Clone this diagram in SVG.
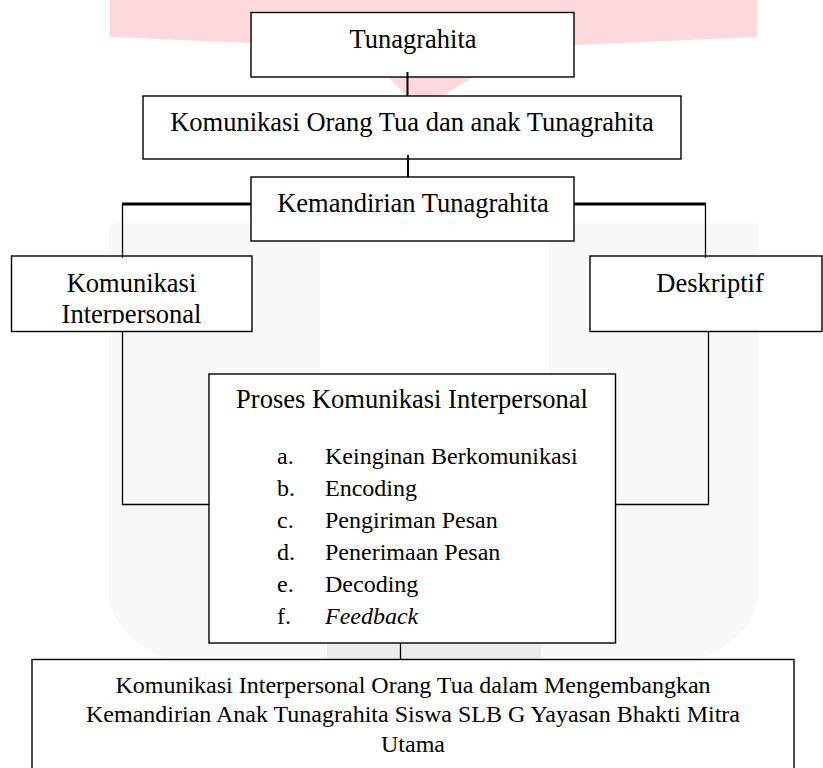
<svg xmlns="http://www.w3.org/2000/svg" width="823" height="768" viewBox="0 0 823 768">
<style>
.box{fill:#fff;stroke:#000;stroke-width:1.4}
.t{font-family:"Liberation Serif","Times New Roman",serif;font-size:26.5px;fill:#000;text-anchor:middle}
.s{font-family:"Liberation Serif","Times New Roman",serif;font-size:24px;fill:#000}
.thick{stroke:#000;stroke-width:2;fill:none}
.bar{stroke:#000;stroke-width:3;fill:none}
.thin{stroke:#000;stroke-width:1.3;fill:none}
</style>
<defs>
<clipPath id="clipKI"><rect x="0" y="256" width="260" height="67.5"/></clipPath>
</defs>
<rect width="823" height="768" fill="#fff"/>
<g id="watermark">
<path d="M110,0 H757 V37 L577,45 L520,48 L420,110 L360,47 L250,43 L110,37 Z" fill="#fdd9dd"/>
<path d="M109,232 Q109,223 118,223 H312 Q320,223 320,232 V660 H109 Z" fill="#f8f8f8"/>
<path d="M549,245 Q549,223 571,223 H758 V660 H549 Z" fill="#f8f8f8"/>
<path d="M109,560 Q112,630 170,660 H700 Q755,630 758,560 Z" fill="#f8f8f8"/>
<rect x="327" y="560" width="214" height="100" fill="#ececec"/>
<path d="M109,600 Q118,640 170,660 L109,660 Z" fill="#fff"/>
<path d="M758,600 Q749,640 697,660 L758,660 Z" fill="#fff"/>
</g>
<g id="n-tunagrahita">
<rect class="box" x="251" y="12.5" width="323" height="64.5"/>
<text class="t" x="413" y="48">Tunagrahita</text>
</g>
<g id="n-komunikasi-orangtua">
<rect class="box" x="143" y="96" width="538" height="63"/>
<text class="t" x="412" y="131">Komunikasi Orang Tua dan anak Tunagrahita</text>
</g>
<g id="n-kemandirian">
<rect class="box" x="251" y="177" width="323" height="64"/>
<text class="t" x="413" y="212">Kemandirian Tunagrahita</text>
</g>
<g id="n-komunikasi-interpersonal">
<rect class="box" x="11.5" y="256" width="240.5" height="75.5"/>
<text class="t" x="131.5" y="292">Komunikasi</text>
<text class="t" x="131.5" y="323" clip-path="url(#clipKI)">Interpersonal</text>
</g>
<g id="n-deskriptif">
<rect class="box" x="590" y="256" width="232" height="75.5"/>
<text class="t" x="710" y="292">Deskriptif</text>
</g>
<g id="n-proses">
<rect class="box" x="209" y="374" width="406.5" height="269"/>
<text class="t" x="412" y="408">Proses Komunikasi Interpersonal</text>
<text class="s" x="277" y="464">a.</text><text class="s" x="325" y="464">Keinginan Berkomunikasi</text>
<text class="s" x="277" y="495.5">b.</text><text class="s" x="325" y="495.5">Encoding</text>
<text class="s" x="277" y="527.5">c.</text><text class="s" x="325" y="527.5">Pengiriman Pesan</text>
<text class="s" x="277" y="559.5">d.</text><text class="s" x="325" y="559.5">Penerimaan Pesan</text>
<text class="s" x="277" y="591.5">e.</text><text class="s" x="325" y="591.5">Decoding</text>
<text class="s" x="277" y="623.5">f.</text><text class="s" x="325" y="623.5" font-style="italic">Feedback</text>
</g>
<g id="n-kesimpulan">
<rect class="box" x="32" y="659.5" width="762" height="120"/>
<text class="s" x="413" y="693" text-anchor="middle">Komunikasi Interpersonal Orang Tua dalam Mengembangkan</text>
<text class="s" x="413" y="722" text-anchor="middle">Kemandirian Anak Tunagrahita Siswa SLB G Yayasan Bhakti Mitra</text>
<text class="s" x="413" y="751.5" text-anchor="middle">Utama</text>
</g>
<g id="connectors">
<line class="thick" x1="407.5" y1="72" x2="407.5" y2="96"/>
<line class="thick" x1="408" y1="155" x2="408" y2="177"/>
<line class="bar" x1="122" y1="204" x2="251" y2="204"/>
<line class="bar" x1="574" y1="204" x2="706" y2="204"/>
<line class="thin" x1="122.5" y1="204" x2="122.5" y2="258"/>
<line class="thin" x1="705.5" y1="204" x2="705.5" y2="258"/>
<polyline class="thin" points="122.5,331.5 122.5,504.5 209,504.5"/>
<polyline class="thin" points="708.5,331.5 708.5,504.5 615.5,504.5"/>
<line class="thin" x1="400.5" y1="643" x2="400.5" y2="659.5"/>
</g>
</svg>
